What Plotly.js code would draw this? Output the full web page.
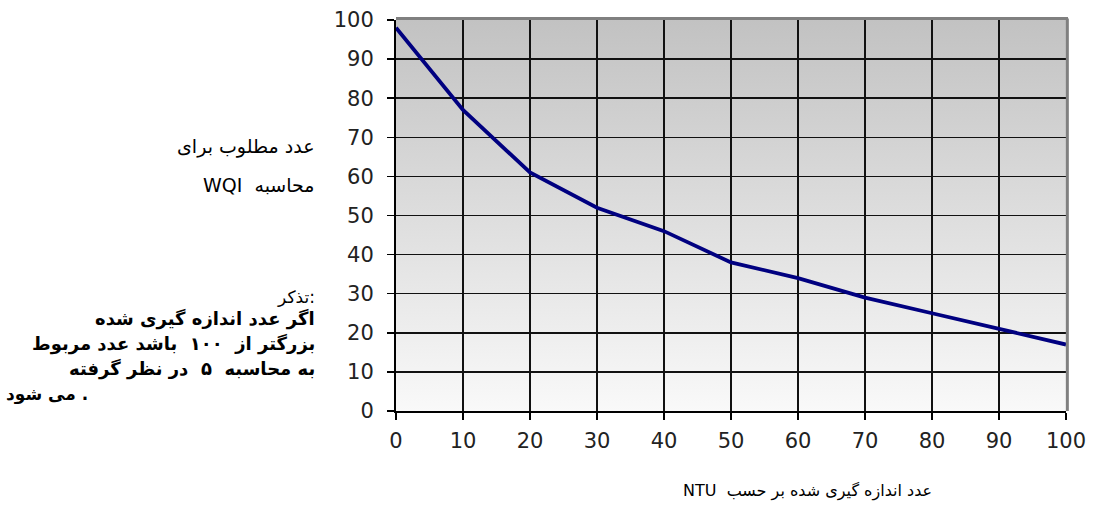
<!DOCTYPE html>
<html>
<head>
<meta charset="utf-8">
<script src="https://cdn.plot.ly/plotly-3.0.1.min.js"></script>
<style>
  html, body { margin: 0; padding: 0; background: #ffffff; }
  #chart { width: 1096px; height: 529px; background-repeat: no-repeat; }
</style>
</head>
<body>
<div id="chart"></div>
<script>
// ---- data ----
const turbidity = [0, 10, 20, 30, 40, 50, 60, 70, 80, 90, 100];
const qValue    = [98, 77, 61, 52, 46, 38, 34, 29, 25, 21, 17];
const xTicks = [0, 10, 20, 30, 40, 50, 60, 70, 80, 90, 100];
const yTicks = [0, 10, 20, 30, 40, 50, 60, 70, 80, 90, 100];

const xTitle = 'عدد اندازه گیری شده بر حسب  NTU';
const yTitleLines = ['عدد مطلوب برای', 'محاسبه  WQI'];
const noteTitle = 'تذکر:';
const noteLines = ['اگر عدد اندازه گیری شده', 'بزرگتر از  ۱۰۰  باشد عدد مربوط', 'به محاسبه  ۵  در نظر گرفته'];
const noteLast = 'می شود .';

const font = 'DejaVu Sans, Verdana, sans-serif';
const tfont = 'DejaVu Sans, Tahoma, sans-serif';
const RLE = '\u202B', PDF = '\u202C';

const trace = {
  x: turbidity, y: qValue, type: 'scatter', mode: 'lines',
  line: { color: '#000080', width: 3.8 }, cliponaxis: false, hoverinfo: 'skip'
};

function px2paperX(p) { return (p - 396) / 670; }
function px2paperY(p) { return (411 - p) / 391; }

const annotations = [];
yTitleLines.forEach((t, i) => annotations.push({
  text: RLE + t + PDF, xref: 'paper', yref: 'paper', x: px2paperX(317), y: px2paperY([146, 185][i]),
  xanchor: 'right', yanchor: 'middle', showarrow: false,
  font: { family: tfont, size: 19, color: '#000' }
}));
annotations.push({
  text: noteTitle, xref: 'paper', yref: 'paper', x: px2paperX(317), y: px2paperY(297),
  xanchor: 'right', yanchor: 'middle', showarrow: false,
  font: { family: tfont, size: 17, color: '#000' }
});
noteLines.forEach((t, i) => annotations.push({
  text: '<b>' + t + '</b>', xref: 'paper', yref: 'paper', x: px2paperX(317), y: px2paperY([319, 344, 369][i]),
  xanchor: 'right', yanchor: 'middle', showarrow: false,
  font: { family: tfont, size: 18, color: '#000' }
}));
annotations.push({
  text: '<b>' + noteLast + '</b>', xref: 'paper', yref: 'paper', x: px2paperX(4), y: px2paperY(394),
  xanchor: 'left', yanchor: 'middle', showarrow: false,
  font: { family: tfont, size: 17, color: '#000' }
});
annotations.push({
  text: RLE + xTitle + PDF, xref: 'paper', yref: 'paper', x: px2paperX(807), y: px2paperY(491),
  xanchor: 'center', yanchor: 'middle', showarrow: false,
  font: { family: tfont, size: 16, color: '#000' }
});

const layout = {
  width: 1096, height: 529,
  margin: { l: 396, r: 30, t: 20, b: 118, pad: 0 },
  paper_bgcolor: 'rgba(0,0,0,0)', plot_bgcolor: 'rgba(0,0,0,0)',
  showlegend: false,
  font: { family: font, size: 21, color: '#222' },
  xaxis: {
    range: [0, 100], tickvals: xTicks, ticktext: xTicks.map(String),
    showgrid: true, gridcolor: '#111', gridwidth: 1.5,
    showline: true, linecolor: '#000', linewidth: 2,
    ticks: 'outside', ticklen: 7, tickwidth: 1.5, tickcolor: '#000',
    ticklabelstandoff: 3,
    zeroline: false, fixedrange: true,
    tickfont: { family: font, size: 21, color: '#222' }
  },
  yaxis: {
    range: [0, 100], tickvals: yTicks, ticktext: yTicks.map(String),
    showgrid: true, gridcolor: '#111', gridwidth: 1.5,
    showline: true, linecolor: '#000', linewidth: 2,
    ticks: 'outside', ticklen: 7, tickwidth: 1.5, tickcolor: '#000',
    ticklabelstandoff: 9,
    zeroline: false, fixedrange: true,
    tickfont: { family: font, size: 21, color: '#222' }
  },
  shapes: [
    { type: 'line', xref: 'paper', yref: 'paper', x0: 0, x1: 1.003, y0: 1.004, y1: 1.004,
      line: { color: '#808080', width: 3 }, layer: 'above' },
    { type: 'line', xref: 'paper', yref: 'paper', x0: 1.002, x1: 1.002, y0: 0, y1: 1.004,
      line: { color: '#808080', width: 3 }, layer: 'above' }
  ],
  annotations: annotations
};

const gd = document.getElementById('chart');
Plotly.newPlot(gd, [trace], layout, { displayModeBar: false, staticPlot: true }).then(() => {
  const s = gd._fullLayout._size;
  gd.style.backgroundImage = 'linear-gradient(to bottom, #c2c2c2, #f9f9f9)';
  gd.style.backgroundPosition = s.l + 'px ' + s.t + 'px';
  gd.style.backgroundSize = s.w + 'px ' + s.h + 'px';
});
</script>
</body>
</html>
